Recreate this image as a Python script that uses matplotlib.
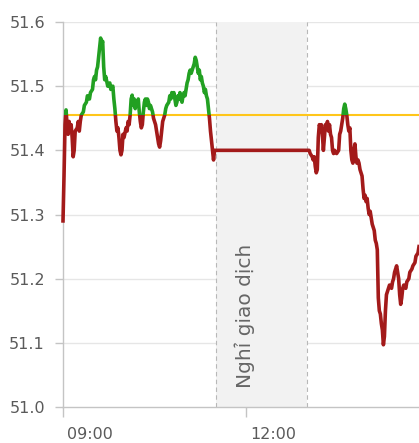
import matplotlib
matplotlib.use('Agg')
import matplotlib.pyplot as plt
from matplotlib.patches import Rectangle
from matplotlib.transforms import ScaledTranslation

# morning session: minutes since 09:00 and price
am_minutes = [0, 1, 2, 3, 4, 5, 6, 7, 8, 9, 10, 11, 12, 14, 15, 16, 17, 18, 20, 21,
              23, 24, 26, 27, 29, 30, 31, 32, 33, 34, 35, 36, 37, 38, 39, 40, 41, 42, 44, 46,
              47, 49, 50, 51, 52, 53, 54, 55, 56, 57, 58, 59, 60, 62, 63, 64, 65, 66, 67, 68,
              69, 70, 71, 72, 73, 74, 75, 76, 77, 78, 79, 80, 81, 82, 83, 84, 85, 86, 88, 89,
              91, 92, 93, 94, 95, 96, 97, 98, 99, 100, 101, 102, 104, 105, 106, 107, 108, 109, 110, 111,
              112, 113, 114, 115, 116, 117, 118, 119, 120, 121, 122, 123, 124, 125, 126, 127, 128, 129, 130, 131,
              132, 133, 134, 135, 136, 137, 138, 139, 140, 141, 142, 143, 144, 145, 146, 147, 148, 149, 150]
am_prices = [51.29, 51.36, 51.44, 51.463, 51.44, 51.425, 51.445, 51.43, 51.44, 51.42, 51.39, 51.40, 51.43, 51.435, 51.445, 51.43, 51.445, 51.455, 51.46, 51.47,
             51.475, 51.485, 51.48, 51.49, 51.495, 51.51, 51.515, 51.51, 51.525, 51.53, 51.545, 51.56, 51.575, 51.565, 51.57, 51.53, 51.51, 51.515, 51.50, 51.505,
             51.495, 51.50, 51.48, 51.465, 51.445, 51.43, 51.435, 51.42, 51.40, 51.393, 51.40, 51.425, 51.42, 51.435, 51.43, 51.445, 51.44, 51.455, 51.48, 51.486,
             51.47, 51.48, 51.465, 51.475, 51.47, 51.48, 51.46, 51.445, 51.435, 51.44, 51.46, 51.475, 51.48, 51.47, 51.48, 51.475, 51.465, 51.47, 51.46, 51.45,
             51.44, 51.43, 51.42, 51.41, 51.405, 51.415, 51.43, 51.445, 51.45, 51.455, 51.465, 51.47, 51.475, 51.485, 51.48, 51.49, 51.485, 51.49, 51.48, 51.47,
             51.475, 51.485, 51.48, 51.49, 51.48, 51.475, 51.485, 51.49, 51.485, 51.495, 51.505, 51.51, 51.52, 51.525, 51.52, 51.525, 51.53, 51.535, 51.545, 51.54,
             51.53, 51.52, 51.525, 51.51, 51.515, 51.505, 51.50, 51.49, 51.495, 51.485, 51.48, 51.465, 51.45, 51.43, 51.415, 51.40, 51.385, 51.40, 51.40]

# afternoon session
pm_minutes = [240, 242, 243, 245, 246, 247, 248, 249, 250, 251, 252, 253, 254, 255, 256, 257, 258, 259, 260, 261,
              262, 263, 264, 265, 266, 267, 269, 271, 272, 273, 274, 275, 276, 277, 278, 279, 280, 281, 282, 283,
              284, 285, 286, 287, 288, 289, 290, 291, 292, 293, 294, 295, 296, 297, 298, 299, 300, 301, 302, 303,
              304, 305, 306, 307, 308, 309, 310, 311, 312, 313, 314, 315, 316, 317, 318, 319, 320, 321, 323, 324,
              325, 326, 327, 328, 329, 330, 331, 332, 333, 334, 335, 337, 338, 340, 341, 343, 344, 346, 347, 349, 350]
pm_prices = [51.40, 51.40, 51.395, 51.39, 51.385, 51.39, 51.375, 51.365, 51.37, 51.42, 51.44, 51.435, 51.44, 51.425, 51.40, 51.42, 51.44, 51.435, 51.445, 51.43,
             51.44, 51.425, 51.42, 51.40, 51.395, 51.40, 51.395, 51.40, 51.425, 51.43, 51.44, 51.45, 51.465, 51.472, 51.465, 51.455, 51.44, 51.43, 51.435, 51.40,
             51.385, 51.38, 51.40, 51.41, 51.39, 51.38, 51.385, 51.38, 51.37, 51.365, 51.36, 51.34, 51.325, 51.33, 51.32, 51.325, 51.31, 51.30, 51.305, 51.295,
             51.285, 51.28, 51.275, 51.26, 51.255, 51.245, 51.17, 51.15, 51.145, 51.13, 51.12, 51.097, 51.11, 51.15, 51.175, 51.18, 51.185, 51.19, 51.185, 51.195,
             51.20, 51.21, 51.215, 51.22, 51.21, 51.20, 51.175, 51.16, 51.17, 51.185, 51.19, 51.185, 51.195, 51.20, 51.21, 51.215, 51.22, 51.225, 51.235, 51.24, 51.25]

ref_price = 51.455
break_start, break_end = 150, 240
break_label = "Nghỉ giao dịch"
yticks = [51.0, 51.1, 51.2, 51.3, 51.4, 51.5, 51.6]
xtick_minutes = [0, 180]
xtick_labels = ["09:00", "12:00"]

minutes = am_minutes + pm_minutes
prices = am_prices + pm_prices

W, H = 419, 443
fig = plt.figure(figsize=(W / 100, H / 100), dpi=100)
ax = fig.add_axes([63 / W, 36 / H, 356 / W, 385 / H])
ax.set_xlim(0, 350)
ax.set_ylim(51.0, 51.6)

# grid
for yv in yticks[1:]:
    ax.axhline(yv, color='#e6e6e6', lw=1, zorder=0)

# break band
ax.axvspan(break_start, break_end, color='#f2f2f2', zorder=0.5, lw=0)
for xb in (break_start, break_end):
    ax.axvline(xb, color='#b8b8b8', lw=0.8, ls=(0, (4, 3)), zorder=0.6)
ax.text(179, 51.142, break_label, rotation=90, ha='center', va='center',
        fontsize=14.5, color='#666666', zorder=1)

# reference line
ax.axhline(ref_price, color='#ffc61a', lw=1.5, zorder=2)

# price line: red below, green above reference
red_line, = ax.plot(minutes, prices, color='#a31a1a', lw=2.6, zorder=3)
green_line, = ax.plot(minutes, prices, color='#22a022', lw=2.6, zorder=3)
below = Rectangle((-100, 50.0), 1000, ref_price - 50.0, transform=ax.transData)
above = Rectangle((-100, ref_price), 1000, 5.0, transform=ax.transData)
red_line.set_clip_path(below)
green_line.set_clip_path(above)

# axes styling
for s in ('top', 'right'):
    ax.spines[s].set_visible(False)
ax.spines['left'].set_color('#c4c4c4')
ax.spines['bottom'].set_color('#c4c4c4')
ax.spines['left'].set_linewidth(1)
ax.spines['bottom'].set_linewidth(1)

ax.set_yticks(yticks)
ax.set_yticklabels([f"{v:.1f}" for v in yticks])
ax.tick_params(axis='y', length=6, width=1, color='#c4c4c4', pad=7,
               labelsize=11.5, labelcolor='#5a5a5a')
ax.set_xticks(xtick_minutes)
ax.set_xticklabels(xtick_labels)
ax.tick_params(axis='x', length=7, width=1, color='#c4c4c4', pad=7.5,
               labelsize=11.5, labelcolor='#5a5a5a')
off = ScaledTranslation(4 / 100, 0, fig.dpi_scale_trans)
for lab in ax.get_xticklabels():
    lab.set_ha('left')
    lab.set_transform(lab.get_transform() + off)

fig.savefig('out.png', dpi=100)
